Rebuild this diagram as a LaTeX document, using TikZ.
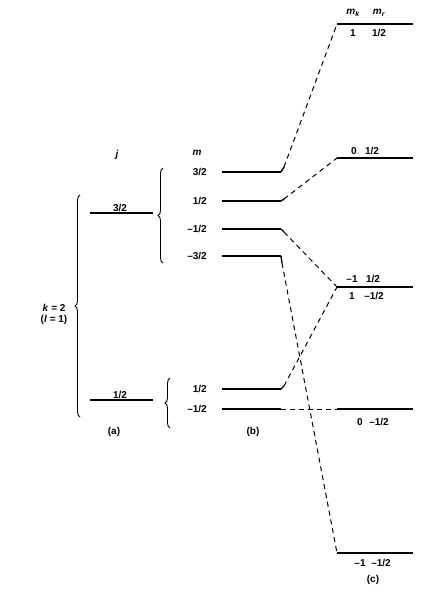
\documentclass[tikz,border=0pt]{standalone}
\usepackage{fontspec}
\setmainfont{Liberation Sans}
\usetikzlibrary{decorations.pathreplacing}
\tikzset{
  level/.style={line width=1.4pt},
  link/.style={dash pattern=on 5pt off 4pt, line width=1pt},
  lab/.style={font=\fontsize{10}{12}\selectfont\bfseries, inner sep=1pt},
  grp/.style={decorate, decoration={brace, amplitude=5pt}, line width=0.9pt},
}
\begin{document}
\begin{tikzpicture}[x=1pt,y=-1pt]
	\useasboundingbox (0,0) rectangle (436,594);
	
	% (a) the two j levels
	\coordinate (jHl) at (90,213); \coordinate (jHr) at (153,213);
	\coordinate (jLl) at (90,400); \coordinate (jLr) at (153,400);
	\draw[level] (jHl) -- (jHr);
	\draw[level] (jLl) -- (jLr);
	\node[lab, above] (jH) at (120,213) {3/2};
	\node[lab, above] (jL) at (120,400) {1/2};
	\node[lab] (jhead) at (117,155) {\textit{j}};
	\node[lab] (capa) at (114,432) {(a)};
	
	\coordinate (kbot) at (80,417); \coordinate (ktop) at (80,195);
	\draw[grp] (kbot) -- (ktop);
	\node[lab] (kval) at (54,308) {\textit{k} = 2};
	\node[lab] (lval) at (54,320) {(\textit{l} = 1)};
	
	% (b) the m levels
	\node[lab] (mhead) at (197,153) {\textit{m}};
	\foreach \nm/\yy/\txt in {ma/172/{3/2}, mb/201/{1/2}, mc/229/{--1/2}, md/256/{--3/2}, me/389/{1/2}, mf/409/{--1/2}}{
		\coordinate (\nm l) at (222,\yy);
		\coordinate (\nm r) at (281,\yy);
		\draw[level] (\nm l) -- (\nm r);
		\node[lab, anchor=east] (\nm t) at (208,\yy) {\txt};
	}
	\coordinate (bHbot) at (163,263); \coordinate (bHtop) at (163,168);
	\coordinate (bLbot) at (170,428); \coordinate (bLtop) at (170,378);
	\draw[grp] (bHbot) -- (bHtop);
	\draw[grp] (bLbot) -- (bLtop);
	\node[lab] (capb) at (253,432) {(b)};
	
	% (c) the m_k, m_r levels
	\foreach \nm/\yy in {ca/24, cb/158, cc/287, cd/409, ce/553}{
		\coordinate (\nm l) at (337,\yy);
		\coordinate (\nm r) at (413,\yy);
		\draw[level] (\nm l) -- (\nm r);
	}
	\node[lab] (mkhead) at (353,13) {\textit{m}\textsubscript{\itshape k}};
	\node[lab] (mrhead) at (379,13) {\textit{m}\textsubscript{\itshape r}};
	\node[lab] (ca1) at (353,33) {1};
	\node[lab] (ca2) at (379,33) {1/2};
	\node[lab] (cb1) at (354,151) {0};
	\node[lab] (cb2) at (372,151) {1/2};
	\node[lab] (cc1) at (352,279) {--1};
	\node[lab] (cc2) at (373,279) {1/2};
	\node[lab] (cc3) at (352,296) {1};
	\node[lab] (cc4) at (374,296) {--1/2};
	\node[lab] (cd1) at (360,422) {0};
	\node[lab] (cd2) at (379,422) {--1/2};
	\node[lab] (ce1) at (360,563) {--1};
	\node[lab] (ce2) at (381,563) {--1/2};
	\node[lab] (capc) at (373,580) {(c)};
	
	% small bends at the ends of the m levels
	\coordinate (maK) at (284,167);
	\coordinate (mbK) at (284,199);
	\coordinate (mcK) at (284,232);
	\coordinate (mdK) at (282,263);
	\coordinate (meK) at (284,386);
	\draw[level] (mar) -- (maK);
	\draw[level] (mbr) -- (mbK);
	\draw[level] (mcr) -- (mcK);
	\draw[level] (mdr) -- (mdK);
	\draw[level] (mer) -- (meK);
	
	% dashed correlation lines
	\draw[link] (maK) -- (cal);
	\draw[link] (mbK) -- (cbl);
	\draw[link] (mcK) -- (ccl);
	\draw[link] (mdK) -- (cel);
	\draw[link] (meK) -- (ccl);
	\draw[link] (mfr) -- (cdl);
\end{tikzpicture}
\end{document}
